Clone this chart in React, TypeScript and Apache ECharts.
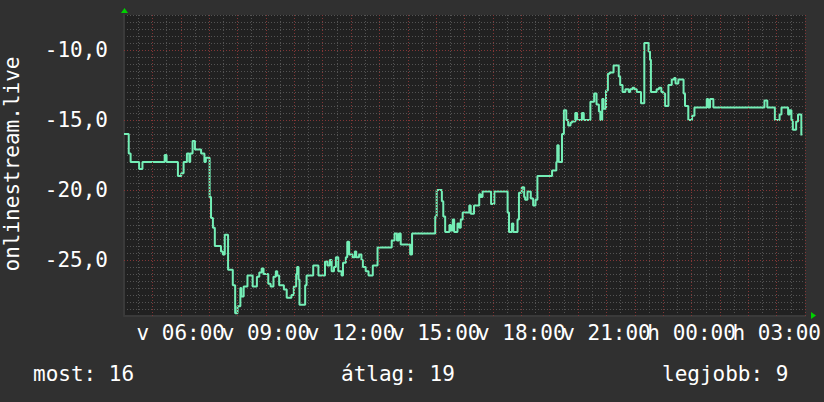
import React, { useEffect, useRef } from "react";
import * as echarts from "echarts";

// minutes since Sunday 04:00
const TIMES = [
  0, 10, 14, 32, 39, 86, 90, 114, 121, 126, 133, 138, 140, 145, 150, 163, 170, 173, 181, 184,
  188, 192, 205, 209, 213, 220, 230, 235, 240, 246, 248, 253, 261, 272, 281, 286, 291, 295, 305, 310,
  316, 321, 324, 328, 338, 344, 354, 359, 364, 366, 369, 371, 383, 386, 400, 411, 425, 430, 435, 439,
  444, 448, 453, 460, 463, 469, 472, 476, 483, 488, 491, 497, 502, 505, 511, 517, 526, 536, 566, 572,
  577, 581, 585, 605, 609, 658, 661, 672, 675, 679, 688, 691, 695, 698, 705, 709, 712, 716, 730, 733,
  740, 751, 754, 758, 776, 783, 811, 814, 820, 823, 832, 835, 841, 846, 848, 853, 860, 865, 870, 874,
  905, 914, 916, 919, 926, 930, 935, 939, 944, 947, 954, 958, 968, 972, 986, 994, 999, 1004, 1007, 1011,
  1014, 1019, 1023, 1027, 1035, 1046, 1049, 1054, 1060, 1067, 1070, 1075, 1079, 1084, 1093, 1100, 1109, 1112, 1114, 1126,
  1131, 1136, 1140, 1144, 1151, 1158, 1163, 1166, 1172, 1183, 1186, 1193, 1201, 1206, 1232, 1235, 1239, 1246, 1354, 1360,
  1376, 1386, 1390, 1404, 1407, 1411, 1414, 1421, 1425, 1432, 1433,
];
const VALUES = [
  -16, -17.4, -18, -18.5, -18, -17.5, -18, -19, -18.8, -18, -17.4, -18, -17.4, -16.5, -17.1, -17.4, -18, -17.7, -20.5, -22,
  -22.7, -24, -24.4, -24.6, -23.2, -25.7, -26.8, -28.8, -28.3, -27, -27.6, -26.9, -26.1, -26.9, -26.2, -25.9, -25.6, -26, -26.7, -26.9,
  -26.2, -25.8, -26.1, -26.8, -27.1, -27.7, -27.5, -26.9, -26, -25.5, -26.4, -28.2, -26.8, -26.1, -25.4, -26.1, -25.1, -25.4, -25, -25.8,
  -25.5, -24.8, -25.8, -26.1, -25.2, -24.8, -23.7, -24.6, -24.8, -24.4, -24.8, -24.6, -25, -25.5, -25.8, -26.1, -25.4, -24.1, -23.6, -23.1,
  -23.6, -23.1, -23.9, -24.6, -23.1, -21.9, -20, -20.8, -21.9, -23, -22.5, -22.9, -22.1, -23, -22.4, -22.7, -22.1, -21.6, -21.1, -21.7,
  -21.1, -20.3, -20.5, -20.1, -21, -20.1, -21.6, -23, -22.4, -23, -22.1, -20.2, -19.8, -20.5, -20.7, -20.1, -20.6, -21.1, -20.7, -19,
  -18.6, -18, -16.8, -18, -16, -14.3, -15, -15.4, -15.2, -15.1, -14.5, -15, -14.5, -15, -13.7, -13.1, -13.9, -14.4, -15, -13.5,
  -14.2, -12.9, -11.7, -11.6, -11.1, -11.9, -12.5, -13, -12.8, -13, -12.8, -12.7, -12.8, -13, -13.8, -9.5, -10.1, -10.7, -13, -12.8,
  -12.7, -13, -13.1, -14, -12.5, -12.1, -12, -12.4, -12.1, -13.1, -14, -15, -14.7, -14.1, -13.5, -14.1, -13.5, -14.1, -13.6, -14.1,
  -15, -14.6, -14.1, -14.6, -14.3, -15, -15.7, -15.1, -14.6, -16.1, -16.1,
];

const X_LABEL_MINUTES = [120, 300, 480, 660, 840, 1020, 1200, 1380];
const X_LABELS = ["v 06:00", "v 09:00", "v 12:00", "v 15:00", "v 18:00", "v 21:00", "h 00:00", "h 03:00"];
const HOUR_LINES = [60, 120, 180, 240, 300, 360, 420, 480, 540, 600, 660, 720, 780, 840, 900, 960, 1020, 1080, 1140, 1200, 1260, 1320, 1380, 1440];
const Y_LABEL_VALUES = [-25, -20, -15, -10];
const Y_MAJOR_LINES = [-25, -20, -15, -10];
const LEGEND_LABELS = ["most: 16", "átlag: 19", "legjobb: 9"];
const AXIS_TITLE = "onlinestream.live";

const FONT = "DejaVu Sans Mono";
const FS = 21;

export default function App() {
  const ref = useRef<HTMLDivElement>(null);
  useEffect(() => {
    const chart = echarts.init(ref.current!, null, { renderer: "svg" });
    const data = TIMES.map((t, i) => [t, VALUES[i]]);
    const minor = { color: "#535353", width: 1, type: [1, 2] as any };
    const xLabelStyle = {
      formatter: (v: number) => X_LABELS[X_LABEL_MINUTES.indexOf(v)] ?? "",
      color: "#ffffff",
      fontFamily: FONT,
      fontSize: FS,
      margin: 6,
      hideOverlap: false,
      showMinLabel: true,
      showMaxLabel: true,
    };
    const option: any = {
      animation: false,
      backgroundColor: "#303030",
      grid: {
        left: 124,
        top: 15,
        width: 684,
        height: 301,
        show: true,
        backgroundColor: "#212121",
        borderWidth: 0,
      },
      xAxis: [
        {
          type: "value",
          min: 0,
          max: 1440,
          interval: 30,
          axisLine: { show: true, lineStyle: { color: "#3a3a3a", width: 2 } },
          axisTick: { show: false },
          splitLine: { show: true, lineStyle: minor },
          axisLabel: {
            ...xLabelStyle,
            customValues: X_LABEL_MINUTES.filter((_, i) => i % 2 === 0),
          },
        },
        {
          type: "value",
          position: "bottom",
          offset: 0,
          min: 0,
          max: 1440,
          interval: 30,
          axisLine: { show: false },
          axisTick: { show: false },
          splitLine: { show: false },
          axisLabel: {
            ...xLabelStyle,
            customValues: X_LABEL_MINUTES.filter((_, i) => i % 2 === 1),
          },
        },
      ],
      yAxis: {
        type: "value",
        min: -29,
        max: -7.5,
        interval: 0.5,
        axisLine: { show: true, lineStyle: { color: "#3a3a3a", width: 2 } },
        axisTick: { show: false },
        splitLine: { show: true, lineStyle: minor },
        axisLabel: {
          customValues: Y_LABEL_VALUES,
          formatter: (v: number) => v.toFixed(1).replace(".", ","),
          color: "#ffffff",
          fontFamily: FONT,
          fontSize: FS,
          margin: 16,
          hideOverlap: false,
        },
      },
      series: [
        {
          type: "line",
          z: 1,
          xAxisIndex: 0,
          data: [[0, -20]],
          symbol: "none",
          lineStyle: { width: 0, opacity: 0 },
          silent: true,
          markLine: {
            silent: true,
            symbol: "none",
            label: { show: false },
            lineStyle: { color: "#833636", width: 1, type: [1, 2] },
            data: [
              ...Y_MAJOR_LINES.map((v) => ({ yAxis: v })),
              ...HOUR_LINES.map((v) => ({ xAxis: v })),
            ],
          },
        },
        {
          type: "line",
          z: 3,
          xAxisIndex: 0,
          step: "end",
          data,
          symbol: "none",
          showSymbol: false,
          lineStyle: { color: "#74eeb6", width: 2 },
        },
      ],
      graphic: [
        {
          type: "text",
          x: 12,
          y: 164,
          rotation: Math.PI / 2,
          style: {
            text: AXIS_TITLE,
            fill: "#ffffff",
            font: `${FS}px '${FONT}'`,
            align: "center",
            verticalAlign: "middle",
          },
        },
        {
          type: "polygon",
          shape: { points: [[124.5, 8], [121, 13], [128, 13]] },
          style: { fill: "#00d000" },
        },
        {
          type: "polygon",
          shape: { points: [[816, 315.5], [811, 312], [811, 319]] },
          style: { fill: "#00d000" },
        },
        ...LEGEND_LABELS.map((t, i) => ({
          type: "text",
          x: [33, 341, 662][i],
          y: 374,
          style: {
            text: t,
            fill: "#ffffff",
            font: `${FS}px '${FONT}'`,
            verticalAlign: "middle",
          },
        })),
      ],
    };
    chart.setOption(option);
    return () => chart.dispose();
  }, []);
  return (
    <div
      ref={ref}
      style={{ position: "fixed", left: 0, top: 0, width: 824, height: 402 }}
    />
  );
}
